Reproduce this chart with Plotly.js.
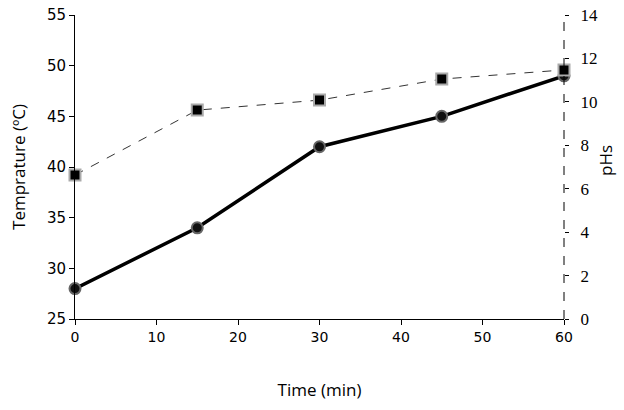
<!DOCTYPE html>
<html>
<head>
<meta charset="utf-8">
<script src="https://cdn.plot.ly/plotly-3.0.1.min.js"></script>
<style>html,body{margin:0;padding:0;background:#fff;}#chart{width:624px;height:410px;}</style>
</head>
<body>
<div id="chart"></div>
<script>
const timeMin = [0, 15, 30, 45, 60];
const temperature = [28, 34, 42, 45, 49];
const pHs = [6.63, 9.62, 10.08, 11.05, 11.47];
const xTicks = [0, 10, 20, 30, 40, 50, 60];
const tempTicks = [25, 30, 35, 40, 45, 50, 55];
const phTicks = [0, 2, 4, 6, 8, 10, 12, 14];

const traces = [
  {
    x: timeMin, y: temperature, type: 'scatter', mode: 'lines+markers',
    name: 'Temperature', yaxis: 'y',
    line: {color: '#000', width: 3.5},
    marker: {symbol: 'circle', size: 11, color: '#111', line: {color: '#666', width: 2}},
    cliponaxis: false
  },
  {
    x: timeMin, y: pHs, type: 'scatter', mode: 'lines+markers',
    name: 'pHs', yaxis: 'y2',
    line: {color: '#333', width: 1, dash: 'dash'},
    marker: {symbol: 'square', size: 11, color: '#000', line: {color: '#aaa', width: 2}},
    cliponaxis: false
  }
];

const titleFont = {family: 'Open Sans', size: 17, color: '#000'};
const layout = {
  width: 624, height: 410,
  margin: {l: 75, r: 60, t: 15, b: 91},
  paper_bgcolor: '#fff', plot_bgcolor: '#fff',
  showlegend: false,
  xaxis: {
    range: [0, 60], tickvals: xTicks, showgrid: false, zeroline: false,
    showline: true, linecolor: '#000', linewidth: 1,
    ticks: 'outside', ticklen: 5, tickcolor: '#000',
    tickfont: {family: 'DejaVu Sans', size: 14, color: '#000'},
    title: {text: 'Time (min)', font: titleFont, standoff: 40}
  },
  yaxis: {
    range: [25, 55], tickvals: tempTicks, showgrid: false, zeroline: false,
    showline: true, linecolor: '#000', linewidth: 1,
    ticks: 'outside', ticklen: 5, tickcolor: '#000',
    tickfont: {family: 'DejaVu Sans', size: 15, color: '#000'},
    title: {text: 'Temprature (ºC)', font: titleFont, standoff: 16}
  },
  yaxis2: {
    range: [0, 14], tickvals: phTicks, overlaying: 'y', side: 'right',
    showgrid: false, zeroline: false, showline: false,
    ticks: 'outside', ticklen: 4, tickcolor: '#000',
    ticklabelstandoff: 8,
    tickfont: {family: 'Liberation Serif', size: 17, color: '#000'}
  },
  annotations: [
    {text: 'pHs', xref: 'paper', yref: 'paper', x: 1, y: 0.52, xshift: 42,
     textangle: -90, showarrow: false, xanchor: 'center', yanchor: 'middle',
     font: titleFont}
  ],
  shapes: [
    {type: 'line', xref: 'paper', yref: 'paper', x0: 1, x1: 1, y0: 0, y1: 1,
     line: {color: '#000', width: 1, dash: 'dash'}}
  ]
};

Plotly.newPlot('chart', traces, layout, {displayModeBar: false, staticPlot: true});
</script>
</body>
</html>
